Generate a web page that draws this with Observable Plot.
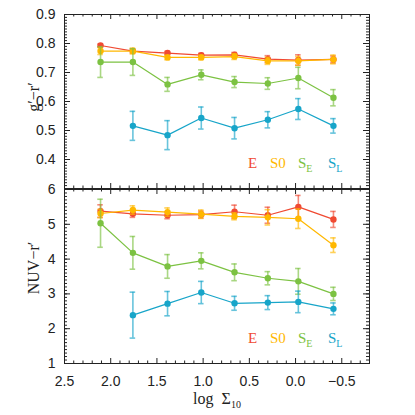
<!DOCTYPE html>
<html>
<head>
<meta charset="utf-8">
<script src="https://cdn.jsdelivr.net/npm/d3@7"></script>
<script src="https://cdn.jsdelivr.net/npm/@observablehq/plot@0.6"></script>
<style>
  html, body { margin: 0; padding: 0; background: #fff; }
  #wrap { position: relative; width: 415px; height: 415px; overflow: hidden; background: #fff; }
  #wrap > svg { position: absolute; left: 0; }
  .t { position: absolute; font-family: "Liberation Serif", serif; white-space: nowrap; line-height: 15px; }
  .lab { font-size: 16px; color: #222; transform: translate(-50%, -50%); }
  .rot { transform: translate(-50%, -50%) rotate(-90deg); }
  .leg { font-size: 15px; }
  .sub { font-size: 10px; position: relative; top: 4px; }
</style>
</head>
<body>
<div id="wrap"></div>
<script>
// ---- data ----
const logSigma = [2.11, 1.76, 1.385, 1.02, 0.66, 0.30, -0.03, -0.41];
const seriesNames = ["E", "S0", "SE", "SL"];
const seriesColors = ["#f04a32", "#ffb800", "#7cc242", "#17a5c9"];

// g' - r'
const grE = [0.793, 0.774, 0.767, 0.760, 0.761, 0.746, 0.743, 0.745];
const grE_err = [0.005, 0.006, 0.006, 0.006, 0.008, 0.012, 0.018, 0.012];
const grS0 = [0.774, 0.774, 0.752, 0.752, 0.755, 0.740, 0.740, 0.745];
const grS0_err = [0.012, 0.010, 0.008, 0.008, 0.010, 0.012, 0.015, 0.015];
const grSE = [0.736, 0.736, 0.659, 0.692, 0.667, 0.662, 0.681, 0.613];
const grSE_err = [0.053, 0.046, 0.024, 0.017, 0.019, 0.020, 0.037, 0.028];
const grSL = [null, 0.516, 0.484, 0.543, 0.508, 0.537, 0.574, 0.516];
const grSL_err = [null, 0.050, 0.050, 0.038, 0.037, 0.028, 0.036, 0.025];

// NUV - r'
const nuvE = [5.38, 5.30, 5.26, 5.28, 5.36, 5.26, 5.50, 5.14];
const nuvE_err = [0.18, 0.10, 0.10, 0.10, 0.19, 0.23, 0.33, 0.23];
const nuvS0 = [5.31, 5.41, 5.35, 5.29, 5.23, 5.20, 5.16, 4.40];
const nuvS0_err = [0.12, 0.12, 0.12, 0.12, 0.10, 0.22, 0.28, 0.21];
const nuvSE = [5.03, 4.18, 3.79, 3.95, 3.62, 3.45, 3.36, 3.00];
const nuvSE_err = [0.69, 0.47, 0.34, 0.23, 0.24, 0.19, 0.37, 0.19];
const nuvSL = [null, 2.39, 2.72, 3.04, 2.73, 2.75, 2.77, 2.57];
const nuvSL_err = [null, 0.66, 0.35, 0.32, 0.20, 0.20, 0.31, 0.17];

// axis ticks
const xTicks = [2.5, 2.0, 1.5, 1.0, 0.5, 0.0, -0.5];
const grTicks = [0.4, 0.5, 0.6, 0.7, 0.8, 0.9];
const nuvTicks = [1, 2, 3, 4, 5, 6];

// ---- build tables ----
function rows(vals, errs) {
  const out = [];
  vals.forEach((arr, si) => {
    arr.forEach((v, i) => {
      if (v == null) return;
      out.push({series: seriesNames[si], x: logSigma[i], y: v, e: errs[si][i]});
    });
  });
  return out;
}
const grRows = rows([grE, grS0, grSE, grSL], [grE_err, grS0_err, grSE_err, grSL_err]);
const nuvRows = rows([nuvE, nuvS0, nuvSE, nuvSL], [nuvE_err, nuvS0_err, nuvSE_err, nuvSL_err]);

const W = 415, ML = 64, MR = 46, FW = W - ML - MR, FH = 174;
const xDomain = [2.5, -0.8];
const xMinor = d3.range(-8, 26).map(d => d / 10).filter(d => !xTicks.some(t => Math.abs(t - d) < 1e-9));

function tickMarks(yMajor, yMinor) {
  const ink = "#222";
  return [
    Plot.ruleX(xTicks, {stroke: ink, insetTop: FH - 5}),
    Plot.ruleX(xTicks, {stroke: ink, insetBottom: FH - 5}),
    Plot.ruleX(xMinor, {stroke: ink, insetTop: FH - 2.5}),
    Plot.ruleX(xMinor, {stroke: ink, insetBottom: FH - 2.5}),
    Plot.ruleY(yMajor, {stroke: ink, insetRight: FW - 6}),
    Plot.ruleY(yMajor, {stroke: ink, insetLeft: FW - 6}),
    Plot.ruleY(yMinor, {stroke: ink, insetRight: FW - 3}),
    Plot.ruleY(yMinor, {stroke: ink, insetLeft: FW - 3})
  ];
}

function dataMarks(data) {
  const marks = [];
  seriesNames.forEach((s, si) => {
    const d = data.filter(r => r.series === s);
    const c = seriesColors[si];
    marks.push(
      Plot.ruleX(d, {x: "x", y1: r => r.y - r.e, y2: r => r.y + r.e, stroke: c, strokeOpacity: 0.65, strokeWidth: 1.6}),
      Plot.ruleY(d, {y: r => r.y - r.e, x1: r => r.x + 0.03, x2: r => r.x - 0.03, stroke: c, strokeOpacity: 0.65, strokeWidth: 1.6}),
      Plot.ruleY(d, {y: r => r.y + r.e, x1: r => r.x + 0.03, x2: r => r.x - 0.03, stroke: c, strokeOpacity: 0.65, strokeWidth: 1.6}),
      Plot.line(d, {x: "x", y: "y", stroke: c, strokeWidth: 1.2}),
      Plot.dot(d, {x: "x", y: "y", fill: c, r: 3.2})
    );
  });
  return marks;
}

const baseStyle = {fontFamily: "'Liberation Sans', sans-serif", fontSize: "14px", color: "#222", overflow: "visible", background: "transparent"};

const topPlot = Plot.plot({
  width: W, height: 190, marginTop: 14, marginBottom: 2, marginLeft: ML, marginRight: MR,
  x: {domain: xDomain, axis: null},
  y: {domain: [0.3, 0.9]},
  style: baseStyle,
  marks: [
    ...dataMarks(grRows),
    ...tickMarks(d3.range(3, 10).map(d => d / 10), d3.range(30, 91).map(d => d / 100)),
    Plot.frame({stroke: "#222"}),
    Plot.axisY(grTicks, {tickSize: 0, tickPadding: 9, tickFormat: d3.format(".1f"), label: null, fontSize: 14})
  ]
});

const bottomPlot = Plot.plot({
  width: W, height: 235, marginTop: 9, marginBottom: 52, marginLeft: ML, marginRight: MR,
  x: {domain: xDomain},
  y: {domain: [1, 6]},
  style: baseStyle,
  marks: [
    ...dataMarks(nuvRows),
    ...tickMarks(nuvTicks, d3.range(10, 61).map(d => d / 10)),
    Plot.frame({stroke: "#222"}),
    Plot.axisY(nuvTicks, {tickSize: 0, tickPadding: 9, label: null, fontSize: 14}),
    Plot.axisX(xTicks, {tickSize: 0, tickPadding: 13, tickFormat: d3.format(".1f"), label: null, fontSize: 14})
  ]
});

const wrap = document.getElementById("wrap");
topPlot.style.top = "0px";
bottomPlot.style.top = "180px";
wrap.appendChild(topPlot);
wrap.appendChild(bottomPlot);

function addText(html, cls, css) {
  const d = document.createElement("div");
  d.className = "t " + cls;
  d.innerHTML = html;
  Object.assign(d.style, css);
  wrap.appendChild(d);
}
addText("g′−r′", "lab rot", {left: "33px", top: "97px"});
addText("NUV−r′", "lab rot", {left: "33px", top: "268px"});
addText("log&nbsp;&nbsp;Σ<span class='sub'>10</span>", "lab", {left: "217px", top: "399px"});

const legendItems = [
  {html: "E", left: 248},
  {html: "S0", left: 270},
  {html: "S<span class='sub'>E</span>", left: 298},
  {html: "S<span class='sub'>L</span>", left: 328}
];
[155.5, 331].forEach(tp => {
  legendItems.forEach((it, i) => {
    addText(it.html, "leg", {left: it.left + "px", top: tp + "px", color: seriesColors[i]});
  });
});
</script>
</body>
</html>
